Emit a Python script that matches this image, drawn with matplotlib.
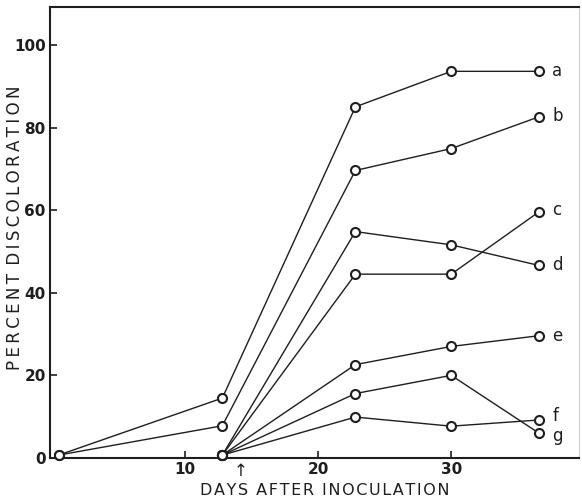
import matplotlib
matplotlib.use("Agg")
import matplotlib.pyplot as plt
from matplotlib.transforms import blended_transform_factory

# Data
days_ab = [0.5, 12.8, 22.8, 30.0, 36.6]
days_cg = [12.8, 22.8, 30.0, 36.6]
series = {
    "a": (days_ab, [0.7, 14.5, 85.0, 93.6, 93.6]),
    "b": (days_ab, [0.7, 7.8, 69.6, 74.9, 82.6]),
    "c": (days_cg, [0.7, 44.5, 44.5, 59.6]),
    "d": (days_cg, [0.7, 54.8, 51.6, 46.6]),
    "e": (days_cg, [0.7, 22.6, 27.0, 29.6]),
    "f": (days_cg, [0.7, 9.9, 7.7, 9.2]),
    "g": (days_cg, [0.7, 15.6, 20.0, 6.0]),
}
label_nudge = {"a": 0, "b": 0.3, "c": 0.5, "d": 0, "e": 0, "f": 0.9, "g": -0.6}
xticks = [10, 20, 30]
yticks = [0, 20, 40, 60, 80, 100]
inoculation_day = 14.2

ink = "#1e1e1e"
plt.rcParams['font.family'] = ['DejaVu Sans']


def spaced(s, gap="\u200a"):
    words = s.split(" ")
    return "\u2002".join(gap.join(w) for w in words)


fig = plt.figure(figsize=(5.82, 4.99), dpi=100)
ax = fig.add_axes([0.0859, 0.0822, 0.9089, 0.904])

for name, (xs, ys) in series.items():
    ax.plot(xs, ys, color=ink, lw=1.0, marker='o', markersize=6.5,
            markerfacecolor='white', markeredgecolor=ink, markeredgewidth=1.5,
            zorder=3, clip_on=False)
    ax.text(xs[-1] + 1.0, ys[-1] + label_nudge[name], name, fontsize=12, color=ink,
            va='center', ha='left')

ax.set_xlim(-0.15, 39.6)
ax.set_ylim(0, 109.2)
ax.set_xticks(xticks)
ax.set_yticks(yticks)
ax.tick_params(direction='in', length=5, width=1.2, colors=ink,
               labelsize=11, pad=3)
for lab in ax.get_xticklabels() + ax.get_yticklabels():
    lab.set_fontweight('bold')
    lab.set_color(ink)

for side in ['left', 'bottom', 'top']:
    ax.spines[side].set_linewidth(1.5)
    ax.spines[side].set_color(ink)
ax.spines['right'].set_color('#cfcfcf')
ax.spines['right'].set_linewidth(0.8)

trans = blended_transform_factory(ax.transData, ax.transAxes)
ax.text(inoculation_day, -0.008, "↑", transform=trans, ha='center', va='top',
        fontsize=12, color=ink)

ax.set_xlabel(spaced("DAYS AFTER INOCULATION"), fontsize=11.5, color=ink)
ax.xaxis.set_label_coords(0.52, -0.055)
ax.set_ylabel(spaced("PERCENT DISCOLORATION", "\u2009"), fontsize=12, color=ink)
ax.yaxis.set_label_coords(-0.05, 0.51)

fig.savefig("out.png", dpi=100)
